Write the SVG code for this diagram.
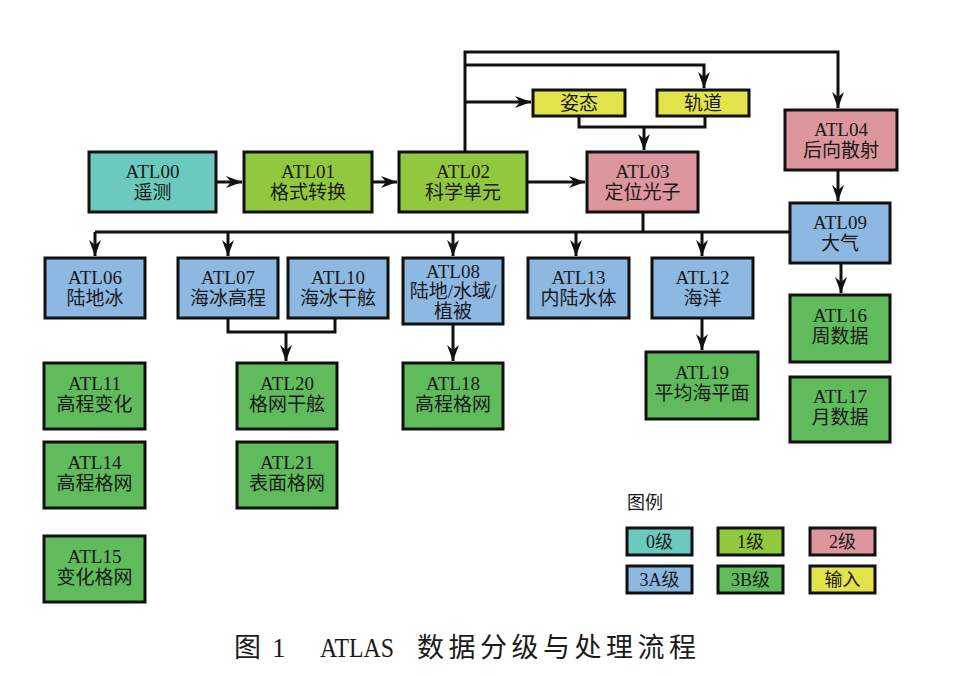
<svg xmlns="http://www.w3.org/2000/svg" width="969" height="676" viewBox="0 0 969 676">
<style>
.b{stroke:#111;stroke-width:3}
.c0{fill:#6cc9bd}
.c1{fill:#92c83e}
.c2{fill:#dc969c}
.c3a{fill:#8cb8e2}
.c3b{fill:#5fbb5c}
.ci{fill:#e2e24a}
text{font-family:"Liberation Serif","DejaVu Serif","Noto Sans CJK SC",serif;font-size:19px;fill:#1a1a1a;text-anchor:middle}
.lg{font-size:18px}
.cap{font-size:27px;text-anchor:start}
.ln{fill:none;stroke:#111;stroke-width:3}
</style>
<defs>
<marker id="ah" viewBox="0 0 16 12" refX="16" refY="6" markerWidth="16" markerHeight="12" markerUnits="userSpaceOnUse" orient="auto">
<path d="M0,0 L16,6 L0,12 L5,6 z" fill="#111"/>
</marker>
</defs>
<rect width="969" height="676" fill="#fff"/>

<g id="connectors">
<path class="ln" d="M217,182 H242" marker-end="url(#ah)"/>
<path class="ln" d="M372,182 H397" marker-end="url(#ah)"/>
<path class="ln" d="M527,182 H585" marker-end="url(#ah)"/>
<path class="ln" d="M465,152 V52 H838 V108" marker-end="url(#ah)"/>
<path class="ln" d="M465,65 H704 V88" marker-end="url(#ah)"/>
<path class="ln" d="M465,102 H531" marker-end="url(#ah)"/>
<path class="ln" d="M579,116 V127 H705 V116"/>
<path class="ln" d="M644,127 V150" marker-end="url(#ah)"/>
<path class="ln" d="M838,170 V201" marker-end="url(#ah)"/>
<path class="ln" d="M643,212 V232"/>
<path class="ln" d="M95,232 H790"/>
<path class="ln" d="M95,232 V256" marker-end="url(#ah)"/>
<path class="ln" d="M228,232 V256" marker-end="url(#ah)"/>
<path class="ln" d="M453,232 V256" marker-end="url(#ah)"/>
<path class="ln" d="M576,232 V256" marker-end="url(#ah)"/>
<path class="ln" d="M702,232 V256" marker-end="url(#ah)"/>
<path class="ln" d="M228,318 V332 H335 V318"/>
<path class="ln" d="M286,332 V361" marker-end="url(#ah)"/>
<path class="ln" d="M453,324 V361" marker-end="url(#ah)"/>
<path class="ln" d="M702,318 V350" marker-end="url(#ah)"/>
<path class="ln" d="M841,263 V293" marker-end="url(#ah)"/>
</g>

<g id="ATL00"><rect class="b c0" x="89" y="152" width="127" height="60"/><text x="152.5" y="178">ATL00</text><text x="152.5" y="199">遥测</text></g>
<g id="ATL01"><rect class="b c1" x="244" y="152" width="128" height="60"/><text x="308" y="178">ATL01</text><text x="308" y="199">格式转换</text></g>
<g id="ATL02"><rect class="b c1" x="399" y="152" width="128" height="60"/><text x="463" y="178">ATL02</text><text x="463" y="199">科学单元</text></g>
<g id="ATL03"><rect class="b c2" x="587" y="152" width="111" height="60"/><text x="642.5" y="178">ATL03</text><text x="642.5" y="199">定位光子</text></g>
<g id="attitude"><rect class="b ci" x="533" y="90" width="92" height="26"/><text x="579" y="110">姿态</text></g>
<g id="orbit"><rect class="b ci" x="657" y="90" width="92" height="26"/><text x="703" y="110">轨道</text></g>
<g id="ATL04"><rect class="b c2" x="785" y="110" width="112" height="60"/><text x="841" y="136">ATL04</text><text x="841" y="157">后向散射</text></g>
<g id="ATL09"><rect class="b c3a" x="790" y="203" width="100" height="60"/><text x="840" y="229">ATL09</text><text x="840" y="250">大气</text></g>
<g id="ATL06"><rect class="b c3a" x="45" y="258" width="100" height="60"/><text x="95" y="284">ATL06</text><text x="95" y="305">陆地冰</text></g>
<g id="ATL07"><rect class="b c3a" x="178" y="258" width="100" height="60"/><text x="228" y="284">ATL07</text><text x="228" y="305">海冰高程</text></g>
<g id="ATL10"><rect class="b c3a" x="288" y="258" width="100" height="60"/><text x="338" y="284">ATL10</text><text x="338" y="305">海冰干舷</text></g>
<g id="ATL08"><rect class="b c3a" x="403" y="258" width="100" height="66"/><text x="453" y="278">ATL08</text><text x="453" y="298">陆地/水域/</text><text x="453" y="318">植被</text></g>
<g id="ATL13"><rect class="b c3a" x="528" y="258" width="101" height="60"/><text x="578.5" y="284">ATL13</text><text x="578.5" y="305">内陆水体</text></g>
<g id="ATL12"><rect class="b c3a" x="652" y="258" width="101" height="60"/><text x="702.5" y="284">ATL12</text><text x="702.5" y="305">海洋</text></g>
<g id="ATL11"><rect class="b c3b" x="44" y="363" width="101" height="66"/><text x="94.5" y="390">ATL11</text><text x="94.5" y="411">高程变化</text></g>
<g id="ATL14"><rect class="b c3b" x="44" y="442" width="101" height="66"/><text x="94.5" y="469">ATL14</text><text x="94.5" y="490">高程格网</text></g>
<g id="ATL15"><rect class="b c3b" x="44" y="536" width="101" height="66"/><text x="94.5" y="563">ATL15</text><text x="94.5" y="584">变化格网</text></g>
<g id="ATL20"><rect class="b c3b" x="237" y="363" width="100" height="66"/><text x="287" y="390">ATL20</text><text x="287" y="411">格网干舷</text></g>
<g id="ATL21"><rect class="b c3b" x="237" y="442" width="100" height="66"/><text x="287" y="469">ATL21</text><text x="287" y="490">表面格网</text></g>
<g id="ATL18"><rect class="b c3b" x="403" y="363" width="100" height="66"/><text x="453" y="390">ATL18</text><text x="453" y="411">高程格网</text></g>
<g id="ATL19"><rect class="b c3b" x="646" y="352" width="112" height="67"/><text x="702" y="379">ATL19</text><text x="702" y="400">平均海平面</text></g>
<g id="ATL16"><rect class="b c3b" x="790" y="295" width="100" height="67"/><text x="840" y="322">ATL16</text><text x="840" y="343">周数据</text></g>
<g id="ATL17"><rect class="b c3b" x="790" y="377" width="100" height="65"/><text x="840" y="403">ATL17</text><text x="840" y="424">月数据</text></g>

<g id="legend">
<text class="lg" x="627" y="509" style="text-anchor:start">图例</text>
<rect class="b c0" x="627" y="528" width="65" height="27"/><text class="lg" x="659.5" y="548">0级</text>
<rect class="b c1" x="718" y="528" width="65" height="27"/><text class="lg" x="750.5" y="548">1级</text>
<rect class="b c2" x="810" y="528" width="65" height="27"/><text class="lg" x="842.5" y="548">2级</text>
<rect class="b c3a" x="627" y="566" width="65" height="27"/><text class="lg" x="659.5" y="586">3A级</text>
<rect class="b c3b" x="718" y="566" width="65" height="27"/><text class="lg" x="750.5" y="586">3B级</text>
<rect class="b ci" x="810" y="566" width="65" height="27"/><text class="lg" x="842.5" y="586">输入</text>
</g>

<g id="caption">
<text class="cap" x="234" y="657">图</text>
<text class="cap" x="272" y="657">1</text>
<text class="cap" x="320" y="657" textLength="74" lengthAdjust="spacingAndGlyphs">ATLAS</text>
<text class="cap" x="417" y="657" style="letter-spacing:4.5px">数据分级与处理流程</text>
</g>
</svg>
